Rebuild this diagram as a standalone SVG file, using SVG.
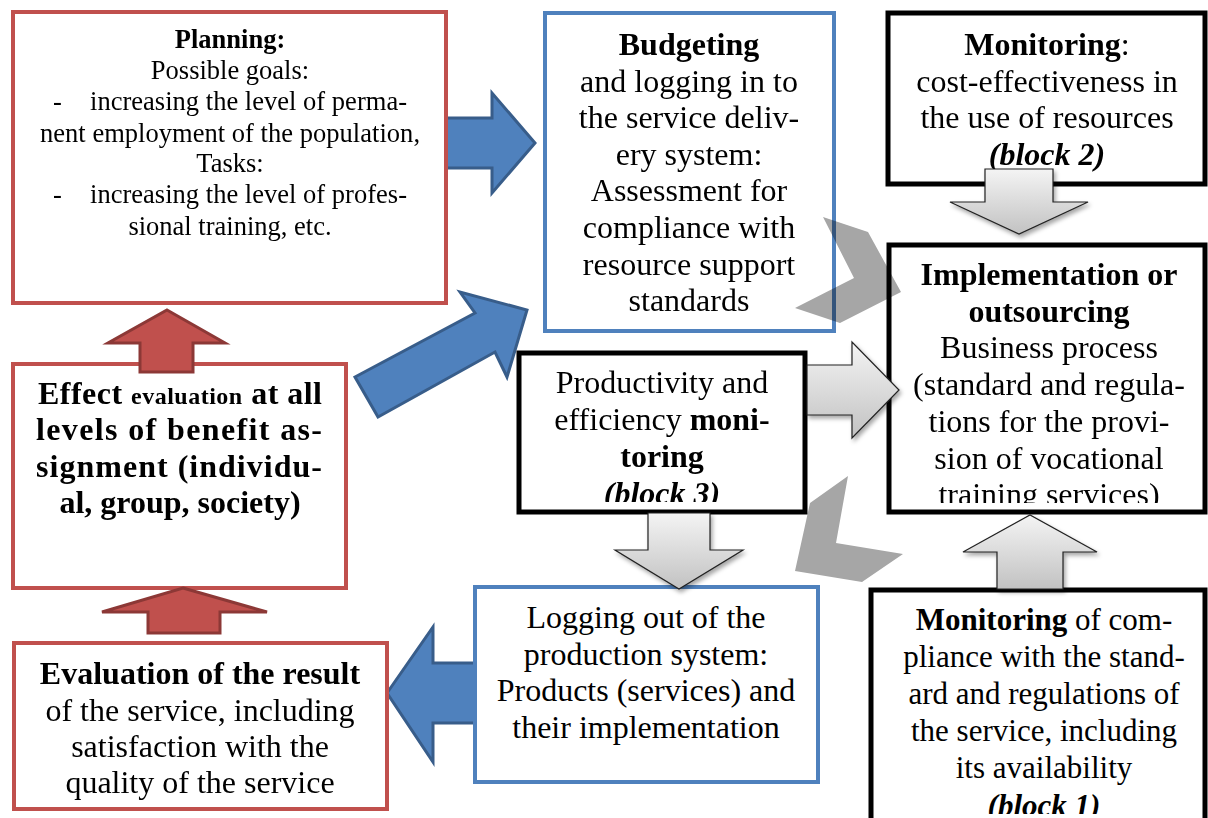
<svg xmlns="http://www.w3.org/2000/svg" width="1208" height="818" viewBox="0 0 1208 818">
<style>
text{font-family:"Liberation Serif","Times New Roman",serif;font-size:32px;fill:#000;text-anchor:middle}
.b{font-weight:bold}
.bi{font-weight:bold;font-style:italic}
.red{fill:#fff;stroke:#C0504D;stroke-width:4}
.blue{fill:#fff;stroke:#4F81BD;stroke-width:4}
.blk{fill:#fff;stroke:#000;stroke-width:5}
.barrow{fill:#4F81BD;stroke:#385D8A;stroke-width:3;stroke-linejoin:miter}
.rarrow{fill:#C0504D;stroke:#8C3836;stroke-width:3}
.garrow{fill:url(#gg);stroke:#222;stroke-width:1.2;filter:url(#sh)}
.chev{fill:#A6A6A6;stroke:none;mix-blend-mode:multiply}
.pl{font-size:26.5px}
.b1{font-size:31px}
</style>
<defs>
<linearGradient id="gg" x1="0" y1="0" x2="0" y2="1">
<stop offset="0" stop-color="#f4f4f4"/>
<stop offset="1" stop-color="#c2c2c2"/>
</linearGradient>
<filter id="sh" x="-20%" y="-20%" width="150%" height="150%">
<feDropShadow dx="2" dy="3" stdDeviation="2" flood-color="#000" flood-opacity="0.35"/>
</filter>
<clipPath id="clipImpl"><rect x="889" y="245" width="316" height="258"/></clipPath>
<clipPath id="clipProd"><rect x="519" y="353" width="286" height="149"/></clipPath>
<clipPath id="clipB1"><rect x="871" y="590" width="334" height="224"/></clipPath>
</defs>

<!-- connectors behind boxes -->
<g id="connectors-back">
<polygon class="barrow" points="440,118 492,118 492,93 535,143 492,193 492,168 440,168"/>
<polygon class="barrow" points="387,693 433,627 433,663 480,663 480,723 433,723 433,762"/>
<polygon class="barrow" points="355,377 475,313 460,292 527,310 507,377 495,352 378,417"/>
</g>

<g id="planning">
<rect class="red" x="13" y="12" width="433" height="291"/>
<text class="pl b" x="230" y="48">Planning:</text>
<text class="pl" x="230" y="79">Possible goals:</text>
<text class="pl" x="53" y="110" style="text-anchor:start">-</text>
<text class="pl" x="90" y="110" style="text-anchor:start" textLength="317" lengthAdjust="spacing">increasing the level of perma-</text>
<text class="pl" x="40" y="142" style="text-anchor:start" textLength="380" lengthAdjust="spacing">nent employment of the population,</text>
<text class="pl" x="230" y="172">Tasks:</text>
<text class="pl" x="53" y="203" style="text-anchor:start">-</text>
<text class="pl" x="90" y="203" style="text-anchor:start" textLength="317" lengthAdjust="spacing">increasing the level of profes-</text>
<text class="pl" x="230" y="235">sional training, etc.</text>
</g>

<g id="budgeting">
<rect class="blue" x="545" y="13" width="289" height="318"/>
<text class="b" x="689" y="55">Budgeting</text>
<text x="689" y="91.6">and logging in to</text>
<text x="689" y="128.2">the service deliv-</text>
<text x="689" y="164.8">ery system:</text>
<text x="689" y="201.4">Assessment for</text>
<text x="689" y="238">compliance with</text>
<text x="689" y="274.6">resource support</text>
<text x="689" y="311.2">standards</text>
</g>

<g id="monitoring-block2">
<rect class="blk" x="888" y="13" width="317" height="171"/>
<text x="1047" y="55"><tspan class="b">Monitoring</tspan>:</text>
<text x="1047" y="91.6">cost-effectiveness in</text>
<text x="1047" y="128.2">the use of resources</text>
<text class="bi" x="1047" y="164.8">(block 2)</text>
</g>

<g id="implementation">
<rect class="blk" x="889" y="245" width="316" height="267"/>
<g clip-path="url(#clipImpl)">
<text class="b" x="1049" y="285">Implementation or</text>
<text class="b" x="1049" y="321.7">outsourcing</text>
<text x="1049" y="358.4">Business process</text>
<text x="1049" y="395">(standard and regula-</text>
<text x="1049" y="431.8">tions for the provi-</text>
<text x="1049" y="468.5">sion of vocational</text>
<text x="1049" y="505.2">training services)</text>
</g>
</g>

<g id="productivity">
<rect class="blk" x="519" y="353" width="286" height="159"/>
<g clip-path="url(#clipProd)">
<text x="662" y="393">Productivity and</text>
<text x="662" y="430">efficiency <tspan class="b">moni-</tspan></text>
<text class="b" x="662" y="467">toring</text>
<text class="bi" x="662" y="504">(block 3)</text>
</g>
</g>

<g id="logging-out">
<rect class="blue" x="475" y="587" width="343" height="195"/>
<text x="646" y="628">Logging out of the</text>
<text x="646" y="664.7">production system:</text>
<text x="646" y="701.4">Products (services) and</text>
<text x="646" y="738">their implementation</text>
</g>

<g id="monitoring-block1">
<rect class="blk" x="871" y="590" width="334" height="250"/>
<g clip-path="url(#clipB1)">
<text class="b1" x="1044" y="630"><tspan class="b">Monitoring</tspan> of com-</text>
<text class="b1" x="1044" y="667">pliance with the stand-</text>
<text class="b1" x="1044" y="704">ard and regulations of</text>
<text class="b1" x="1044" y="741">the service, including</text>
<text class="b1" x="1044" y="778">its availability</text>
<text class="b1 bi" x="1044" y="816">(block 1)</text>
</g>
</g>

<g id="effect-evaluation">
<rect class="red" x="13" y="364" width="333" height="224"/>
<text class="b" x="38" y="404" style="text-anchor:start" textLength="284" lengthAdjust="spacing">Effect <tspan style="font-size:24px">evaluation</tspan> at all</text>
<text class="b" x="36" y="440" style="text-anchor:start" textLength="286" lengthAdjust="spacing">levels of benefit as-</text>
<text class="b" x="36" y="476.5" style="text-anchor:start" textLength="286" lengthAdjust="spacing">signment (individu-</text>
<text class="b" x="180" y="513">al, group, society)</text>
</g>

<g id="evaluation-result">
<rect class="red" x="14" y="643" width="373" height="166"/>
<text class="b" x="200" y="684">Evaluation of the result</text>
<text x="200" y="720.5">of the service, including</text>
<text x="200" y="757">satisfaction with the</text>
<text x="200" y="792.5">quality of the service</text>
</g>

<g id="connectors">
<polygon class="rarrow" points="167,310 225,343 193,343 193,372 140,372 140,343 108,343"/>
<polygon class="rarrow" points="183,588 267,612 220,612 220,633 148,633 148,612 102,612"/>
<polygon class="garrow" points="985,169 1053,169 1053,202 1088,202 1019,234 950,202 985,202"/>
<polygon class="garrow" points="648,513 710,513 710,550 743,550 679,589 615,550 648,550"/>
<polygon class="garrow" points="807,365 852,365 852,342 899,390 852,438 852,415 807,415"/>
<polygon class="garrow" points="997,589 997,552 963,552 1030,515 1097,552 1063,552 1063,589"/>
<polygon class="chev" points="823,217 868,232 901,292 840,323 795,308 854,278"/>
<polygon class="chev" points="848,476 836,543 903,554 862,582 795,571 810,503"/>
</g>
</svg>
